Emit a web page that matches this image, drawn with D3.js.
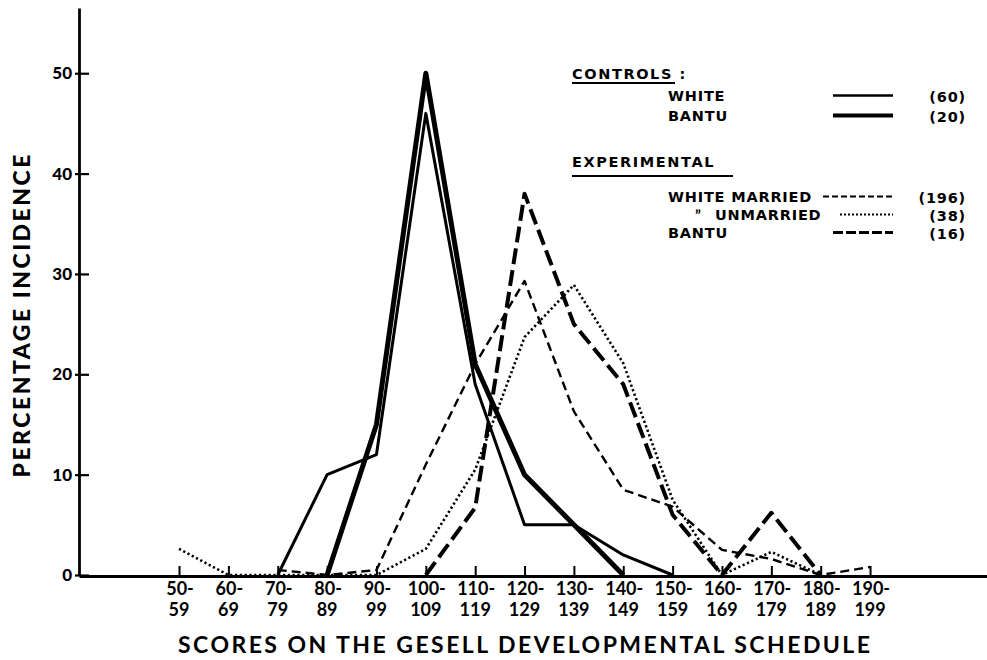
<!DOCTYPE html>
<html>
<head>
<meta charset="utf-8">
<script src="https://cdn.jsdelivr.net/npm/d3@7"></script>
<style>
  html, body { margin: 0; padding: 0; background: #fff; }
  svg { display: block; }
  text { font-family: Lato, "DejaVu Sans", sans-serif; fill: #000; }
  .lg { font-family: "DejaVu Sans", sans-serif; font-weight: 700; font-size: 14.5px; letter-spacing: 0.8px; }
</style>
</head>
<body>
<svg id="chart" width="987" height="660"></svg>
<script>
// ---- data ----
const categories = ["50-59","60-69","70-79","80-89","90-99","100-109","110-119","120-129","130-139","140-149","150-159","160-169","170-179","180-189","190-199"];
const catTop = ["50-","60-","70-","80-","90-","100-","110-","120-","130-","140-","150-","160-","170-","180-","190-"];
const catBottom = ["59","69","79","89","99","109","119","129","139","149","159","169","179","189","199"];
const yTickValues = [0,10,20,30,40,50];

const controlsWhite   = [null,null,0,10,12,46,19,5,5,2,0,null,null,null,null];
const controlsBantu   = [null,null,null,0,15,50,21,10,5,0,null,null,null,null,null];
const expWhiteMarried = [null,null,0.5,0,0.5,11,21,29.3,16.3,8.5,6.8,2.5,1.6,0,0.8];
const expUnmarried    = [2.6,0,0,0,0,2.6,10.5,23.7,28.9,21.1,7.5,0,2.3,0,null];
const expBantu        = [null,null,null,null,null,0,6.7,38,25,19,6,0,6.2,0,null];

const legendGroups = ["CONTROLS :", "EXPERIMENTAL"];
const legendLabels = ["WHITE","BANTU","WHITE MARRIED","UNMARRIED","BANTU"];
const legendCounts = ["(60)","(20)","(196)","(38)","(16)"];

// ---- styles ----
const styles = [
  {data: controlsWhite,   width: 3.0, dash: null,     lgWidth: 2.4, lgDash: null},
  {data: controlsBantu,   width: 5.0, dash: null,     lgWidth: 4.2, lgDash: null},
  {data: expWhiteMarried, width: 2.4, dash: "9,5",    lgWidth: 2.2, lgDash: "6,3"},
  {data: expUnmarried,    width: 2.6, dash: "2.2,2.6",lgWidth: 2.2, lgDash: "2,2"},
  {data: expBantu,        width: 4.0, dash: "16,6",   lgWidth: 3.2, lgDash: "10,3"}
];

const svg = d3.select("#chart");

const x = d3.scalePoint().domain(categories).range([79, 987]).padding(2.198).align(0.461);
const y = d3.scaleLinear().domain([0, 56.5]).range([575, 8]);

// lines
const line = d3.line()
  .defined(d => d.v !== null)
  .x(d => x(d.c))
  .y(d => y(d.v));

styles.forEach(s => {
  const pts = categories.map((c, i) => ({c, v: s.data[i]}));
  svg.append("path")
    .attr("d", line(pts))
    .attr("fill", "none")
    .attr("stroke", "#000")
    .attr("stroke-width", s.width)
    .attr("stroke-linejoin", "round")
    .attr("stroke-dasharray", s.dash);
});

// y axis
const yAxis = d3.axisLeft(y).tickValues(yTickValues).tickSizeInner(-10).tickSizeOuter(0).tickPadding(7);
const gy = svg.append("g").attr("transform", "translate(79,0)").call(yAxis);
gy.select(".domain").attr("stroke", "#000").attr("stroke-width", 2.8);
gy.selectAll(".tick line").attr("stroke", "#000").attr("stroke-width", 2.2).attr("x1", -4);
gy.selectAll(".tick text").attr("font-size", 17).attr("font-weight", 900).attr("font-family", "Lato, sans-serif").attr("fill", "#000");

// x axis
const xAxis = d3.axisTop(x).tickSizeInner(10).tickSizeOuter(0).tickFormat("");
const gx = svg.append("g").attr("transform", "translate(0,576)").call(xAxis);
gx.select(".domain").attr("stroke", "#000").attr("stroke-width", 2.8);
gx.selectAll(".tick line").attr("stroke", "#000").attr("stroke-width", 2);

const xl = svg.append("g");
categories.forEach((c, i) => {
  xl.append("text").attr("x", x(c) + 1).attr("y", 595)
    .attr("text-anchor", "middle").attr("font-size", 18).attr("font-weight", 700)
    .text(catTop[i]);
  xl.append("text").attr("x", x(c)).attr("y", 616)
    .attr("text-anchor", "middle").attr("font-size", 18).attr("font-weight", 700)
    .text(catBottom[i]);
});

// axis titles
svg.append("text")
  .attr("x", 178).attr("y", 653)
  .attr("font-size", 23).attr("font-weight", 700)
  .attr("textLength", 692).attr("lengthAdjust", "spacing")
  .text("SCORES  ON  THE  GESELL  DEVELOPMENTAL  SCHEDULE");

svg.append("text")
  .attr("transform", "translate(30,316) rotate(-90)")
  .attr("text-anchor", "middle")
  .attr("font-size", 23).attr("font-weight", 900)
  .attr("textLength", 323).attr("lengthAdjust", "spacing")
  .text("PERCENTAGE  INCIDENCE");

// legend
const lg = svg.append("g");
const groupY = [79, 167];
const underlineY = [83, 176];
const underlineW = [103, 161];
legendGroups.forEach((g, i) => {
  lg.append("text").attr("class", "lg").attr("x", 572).attr("y", groupY[i])
    .style("letter-spacing", "1.6px").text(g);
  lg.append("line").attr("x1", 572).attr("x2", 572 + underlineW[i])
    .attr("y1", underlineY[i]).attr("y2", underlineY[i])
    .attr("stroke", "#000").attr("stroke-width", 2.2);
});
const rowY = [101, 121, 202, 220, 238];
legendLabels.forEach((lab, i) => {
  const lx = i === 3 ? 715 : 668;
  lg.append("text").attr("class", "lg").attr("x", lx).attr("y", rowY[i]).text(lab);
  if (i === 3) {
    lg.append("text").attr("x", 695).attr("y", rowY[i] + 1)
      .attr("font-size", 15).attr("font-weight", 700).text("\u201D");
  }
  const s = styles[i];
  lg.append("line").attr("x1", i === 2 ? 823 : (i === 3 ? 840 : 833)).attr("x2", 893)
    .attr("y1", rowY[i] - 5.5).attr("y2", rowY[i] - 5.5)
    .attr("stroke", "#000").attr("stroke-width", s.lgWidth)
    .attr("stroke-dasharray", s.lgDash);
  lg.append("text").attr("class", "lg").attr("x", 966).attr("y", rowY[i] + 1)
    .attr("text-anchor", "end").text(legendCounts[i]);
});
</script>
</body>
</html>
